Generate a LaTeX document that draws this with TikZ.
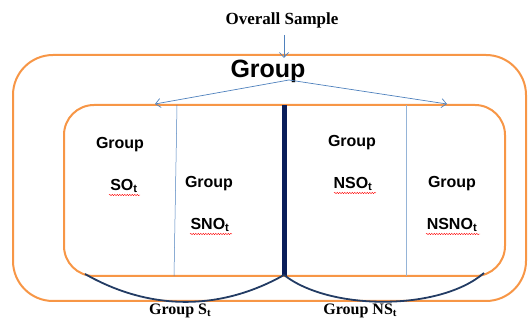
\documentclass[tikz,border=0pt]{standalone}
\usepackage{fontspec}
\setmainfont{Liberation Serif}
\setsansfont{Liberation Sans}
\usetikzlibrary{arrows.meta, decorations.pathmorphing}
\definecolor{boxorange}{RGB}{247,150,70}
\definecolor{arrowblue}{RGB}{79,129,189}
\definecolor{darknavy}{RGB}{10,30,90}
\definecolor{curvenavy}{RGB}{35,60,100}
\tikzset{every picture/.style={line width=0.75pt}}
\newcommand{\subt}{\raisebox{-0.25ex}{\fontsize{11}{11}\selectfont t}}

\begin{document}
\begin{tikzpicture}[x=1pt,y=-1pt,
    box/.style={draw=boxorange, line width=2pt},
    grp/.style={font=\sffamily\bfseries\fontsize{16}{18}\selectfont, align=center},
    lbl/.style={font=\rmfamily\bfseries\fontsize{17}{19}\selectfont},
    spell/.style={red, line width=0.4pt, decorate, decoration={snake, amplitude=0.7pt, segment length=2.5pt}},
    blink/.style={draw=arrowblue, line width=0.7pt, -{Straight Barb[length=5pt, width=9pt]}}]
    \useasboundingbox (0,0) rectangle (528,320);
    % outer and inner boxes
    \draw[box, rounded corners=40pt] (13,55) rectangle (526,301);
    \draw[box, rounded corners=30pt] (64,105) rectangle (505,276);
    % dividing lines
    \draw[arrowblue, line width=0.5pt] (177,105) -- (174,276);
    \draw[arrowblue!60, line width=0.6pt] (406,105) -- (406,276);
    \draw[darknavy, line width=5pt] (284,105) -- (284,276);
    % bottom braces
    \coordinate (ls) at (85,274);
    \coordinate (mid) at (284,275);
    \coordinate (re) at (484,273);
    \draw[curvenavy, line width=1.8pt] (ls) .. controls (150,311) and (220,311) .. (mid);
    \draw[curvenavy, line width=1.8pt] (mid) .. controls (330,311) and (440,311) .. (re);
    % labels
    \node[lbl] (all) at (282,20) {Overall Sample};
    \node[font=\sffamily\bfseries\fontsize{25}{28}\selectfont] (top) at (268,71) {Group};
    \coordinate (topin) at (284,58);
    \coordinate (spl) at (289,80);
    \coordinate (lt) at (155,104);
    \coordinate (rt) at (447,104);
    \draw[blink] (284,35) -- (topin);
    \draw[blink] (spl) -- (lt);
    \draw[blink] (spl) -- (rt);
    \node[grp] (g1) at (120,145) {Group};
    \node[grp] (n1) at (124,186) {SO\textsubscript{t}};
    \node[grp] (g2) at (209,184) {Group};
    \node[grp] (n2) at (210,225) {SNO\textsubscript{t}};
    \node[grp] (g3) at (352,143) {Group};
    \node[grp] (n3) at (353,184) {NSO\textsubscript{t}};
    \node[grp] (g4) at (452,184) {Group};
    \node[grp] (n4) at (452,225) {NSNO\textsubscript{t}};
    \node[lbl, font=\rmfamily\bfseries\fontsize{16}{18}\selectfont, inner sep=1pt] (s) at (180,311) {Group S\subt};
    \node[lbl, font=\rmfamily\bfseries\fontsize{16}{18}\selectfont, inner sep=1pt] (ns) at (360,311) {Group NS\subt};
    % spelling marks
    \draw[spell] (109,195) -- (140,195);
    \draw[spell] (190,234) -- (232,234);
    \draw[spell] (334,193) -- (376,193);
    \draw[spell] (426,234) -- (480,234);
\end{tikzpicture}
\end{document}
